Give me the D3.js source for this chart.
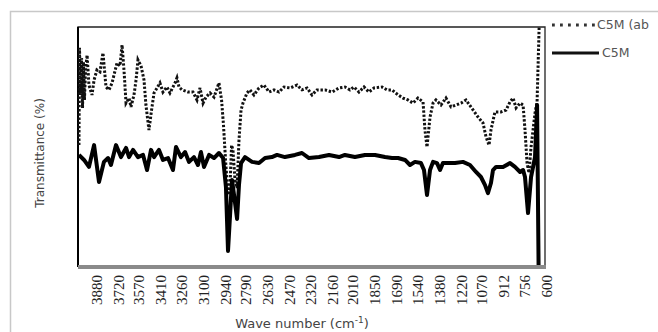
<!DOCTYPE html>
<html>
<head>
<meta charset="utf-8">
<script src="https://cdn.jsdelivr.net/npm/d3@7"></script>
<style>
  html, body { margin: 0; padding: 0; background: #fff; }
  svg { display: block; }
</style>
</head>
<body>
<svg id="chart" width="658" height="332"></svg>
<script>
// ---- Data ----
const tickLabels = [3880, 3720, 3570, 3410, 3260, 3100, 2940, 2790, 2630, 2470, 2320,
                    2160, 2010, 1850, 1690, 1540, 1380, 1220, 1070, 912, 756, 600];

const seriesNames = ["C5M (ab", "C5M"];

// dotted series: wave numbers and transmittance (%)
const dottedWave = [4003, 3999, 3992, 3984, 3977, 3970, 3963, 3955, 3944, 3930, 3908, 3893, 3872, 3850,
  3828, 3806, 3784, 3762, 3726, 3704, 3689, 3675, 3660, 3638, 3624, 3602, 3587, 3573, 3551, 3529,
  3515, 3493, 3474, 3456, 3434, 3413, 3391, 3362, 3340, 3303, 3289, 3274, 3252, 3209, 3172, 3143,
  3121, 3099, 3077, 3048, 3019, 2983, 2964, 2950, 2935, 2917, 2902, 2891, 2881, 2866, 2851, 2837,
  2822, 2808, 2779, 2757, 2728, 2691, 2655, 2618, 2582, 2545, 2509, 2465, 2414, 2378, 2341, 2305,
  2269, 2210, 2159, 2108, 2065, 2028, 1999, 1963, 1926, 1890, 1853, 1795, 1759, 1722, 1678, 1642,
  1606, 1569, 1533, 1496, 1482, 1467, 1445, 1423, 1402, 1365, 1329, 1292, 1256, 1219, 1183, 1147,
  1095, 1059, 1037, 1015, 1001, 972, 928, 891, 862, 840, 818, 789, 767, 753, 738, 724, 709, 680,
  665, 650];
const dottedT = [50.8, 91.3, 71.7, 87.1, 66.3, 85.4, 69.6, 82.1, 88.3, 75.8, 71.7, 77.9, 82.1, 81.3,
  89.2, 75.0, 73.8, 76.7, 85.0, 83.8, 92.5, 82.1, 68.3, 70.4, 66.7, 71.7, 77.9, 86.3, 83.8, 77.9,
  67.5, 57.1, 65.4, 72.5, 74.6, 76.7, 72.9, 75.0, 72.5, 76.7, 78.8, 75.0, 73.8, 72.9, 72.9, 69.6,
  74.6, 68.3, 70.8, 72.5, 70.8, 76.7, 69.6, 59.2, 44.6, 30.0, 34.2, 50.8, 48.8, 36.3, 32.9, 52.9,
  65.4, 68.3, 72.5, 73.8, 71.7, 74.6, 75.8, 72.9, 73.8, 72.9, 75.0, 74.6, 75.8, 73.8, 74.6, 71.7,
  73.8, 73.8, 72.9, 74.6, 75.0, 73.8, 75.0, 72.9, 75.0, 72.9, 74.6, 75.0, 73.8, 73.8, 71.7, 70.4,
  69.6, 68.3, 70.4, 68.8, 57.1, 50.0, 62.5, 68.3, 69.6, 67.5, 70.4, 66.7, 67.5, 68.3, 69.6, 66.7,
  62.5, 60.0, 54.2, 50.8, 57.1, 64.6, 64.6, 65.4, 68.8, 70.4, 66.3, 68.3, 67.5, 57.1, 43.3, 39.2,
  50.0, 64.2, 68.8, 100];

// solid series: wave numbers and transmittance (%)
const solidWave = [4003, 3966, 3930, 3893, 3857, 3821, 3791, 3770, 3733, 3697, 3660, 3638, 3609, 3573,
  3536, 3507, 3478, 3456, 3420, 3391, 3354, 3318, 3296, 3260, 3230, 3201, 3165, 3136, 3114, 3092,
  3055, 3019, 2983, 2953, 2932, 2917, 2902, 2888, 2873, 2851, 2837, 2822, 2793, 2742, 2691, 2647,
  2597, 2560, 2502, 2429, 2378, 2327, 2254, 2181, 2108, 2065, 1992, 1919, 1846, 1773, 1722, 1678,
  1627, 1591, 1555, 1511, 1489, 1467, 1445, 1423, 1394, 1372, 1351, 1314, 1263, 1205, 1154, 1110,
  1074, 1045, 1023, 1001, 986, 964, 913, 862, 826, 789, 767, 753, 731, 709, 680, 665, 654];
const solidT = [46.7, 44.6, 41.7, 50.8, 35.4, 43.8, 45.4, 42.5, 50.8, 45.8, 49.6, 45.8, 48.8, 45.8,
  46.7, 40.4, 48.8, 45.8, 48.8, 44.6, 45.4, 40.4, 50.0, 45.8, 47.9, 43.8, 45.8, 42.5, 47.9, 41.7,
  46.7, 45.4, 47.5, 45.4, 33.3, 6.7, 21.7, 36.3, 30.0, 20.0, 34.2, 43.3, 45.8, 43.8, 43.3, 45.4,
  45.8, 46.7, 45.8, 46.7, 47.5, 45.4, 45.8, 46.7, 45.8, 46.7, 45.8, 46.7, 46.7, 45.8, 45.4, 45.4,
  44.6, 42.5, 43.8, 43.3, 40.4, 30.0, 40.4, 43.8, 43.3, 40.4, 43.3, 43.3, 43.3, 43.8, 42.5, 39.6,
  37.5, 34.2, 30.8, 35.0, 40.4, 41.7, 41.7, 43.3, 41.7, 39.6, 40.4, 37.5, 22.5, 37.5, 45.8, 67.5, 0];

// ---- Layout ----
const svg = d3.select("#chart");
const W = 658, H = 332;
const plot = { left: 78, top: 27, right: 545, bottom: 267 };

svg.append("rect").attr("width", W).attr("height", H).attr("fill", "#fff");

// outer chart frame (extends past the picture on right/bottom)
svg.append("rect")
  .attr("x", 10.5).attr("y", 11.5)
  .attr("width", 760).attr("height", 400)
  .attr("fill", "none").attr("stroke", "#c8c8c8").attr("stroke-width", 1.5);

const x = d3.scaleLinear().domain([4010, 600]).range([plot.left, 546]);
const y = d3.scaleLinear().domain([0, 100]).range([plot.bottom, plot.top]);

// plot border (left, top, right)
svg.append("path")
  .attr("d", `M${plot.left},${plot.bottom} V${plot.top} H${plot.right} V${plot.bottom}`)
  .attr("fill", "none").attr("stroke", "#222").attr("stroke-width", 1.3);
svg.append("line")
  .attr("x1", plot.left).attr("x2", plot.left)
  .attr("y1", plot.top).attr("y2", plot.bottom)
  .attr("stroke", "#000").attr("stroke-width", 2);

// lines
const lineGen = d3.line().x(d => x(d[0])).y(d => y(d[1]));
const dotted = dottedWave.map((w, i) => [w, dottedT[i]]);
const solid = solidWave.map((w, i) => [w, solidT[i]]);

svg.append("path").datum(dotted)
  .attr("d", lineGen)
  .attr("fill", "none").attr("stroke", "#111")
  .attr("stroke-width", 3).attr("stroke-dasharray", "2.4,1.8");

svg.append("path").datum(solid)
  .attr("d", lineGen)
  .attr("fill", "none").attr("stroke", "#000")
  .attr("stroke-width", 4).attr("stroke-linejoin", "round");

// bottom axis
const xAxis = d3.axisBottom(x).tickValues(tickLabels).tickSize(0).tickFormat(d3.format("d"));
const gx = svg.append("g").attr("transform", `translate(0,${plot.bottom})`).call(xAxis);
gx.select(".domain").remove();
gx.append("line")
  .attr("x1", plot.left).attr("x2", plot.right + 1)
  .attr("y1", 0).attr("y2", 0)
  .attr("stroke", "#8a8a8a").attr("stroke-width", 4);
gx.selectAll(".tick text")
  .attr("transform", "rotate(-90)")
  .attr("text-anchor", "end")
  .attr("x", -8).attr("y", 0).attr("dy", "0.35em")
  .attr("fill", "#222")
  .style("font-family", "'Liberation Serif', serif")
  .style("font-size", "15px");

// axis titles
const xt = svg.append("text")
  .attr("x", 302).attr("y", 328)
  .attr("text-anchor", "middle")
  .attr("fill", "#444")
  .style("font-family", "'DejaVu Sans', sans-serif")
  .style("font-size", "13px");
xt.append("tspan").text("Wave number (cm");
xt.append("tspan").attr("dy", -5).style("font-size", "9px").text("-1");
xt.append("tspan").attr("dy", 5).text(")");

svg.append("text")
  .attr("transform", `translate(44,153) rotate(-90)`)
  .attr("text-anchor", "middle")
  .attr("fill", "#444")
  .style("font-family", "'DejaVu Sans', sans-serif")
  .style("font-size", "12px")
  .text("Transmittance (%)");

// legend
const legend = svg.append("g");
legend.append("line")
  .attr("x1", 552).attr("x2", 595).attr("y1", 25).attr("y2", 25)
  .attr("stroke", "#333").attr("stroke-width", 2.8).attr("stroke-dasharray", "2.8,5.2");
legend.append("text").attr("x", 597).attr("y", 25).attr("dy", "0.35em")
  .attr("fill", "#555")
  .style("font-family", "'DejaVu Sans', sans-serif").style("font-size", "12.5px")
  .text(seriesNames[0]);
legend.append("line")
  .attr("x1", 552).attr("x2", 599).attr("y1", 53).attr("y2", 53)
  .attr("stroke", "#111").attr("stroke-width", 3);
legend.append("text").attr("x", 602).attr("y", 53).attr("dy", "0.35em")
  .attr("fill", "#555")
  .style("font-family", "'DejaVu Sans', sans-serif").style("font-size", "12.5px")
  .text(seriesNames[1]);
</script>
</body>
</html>
